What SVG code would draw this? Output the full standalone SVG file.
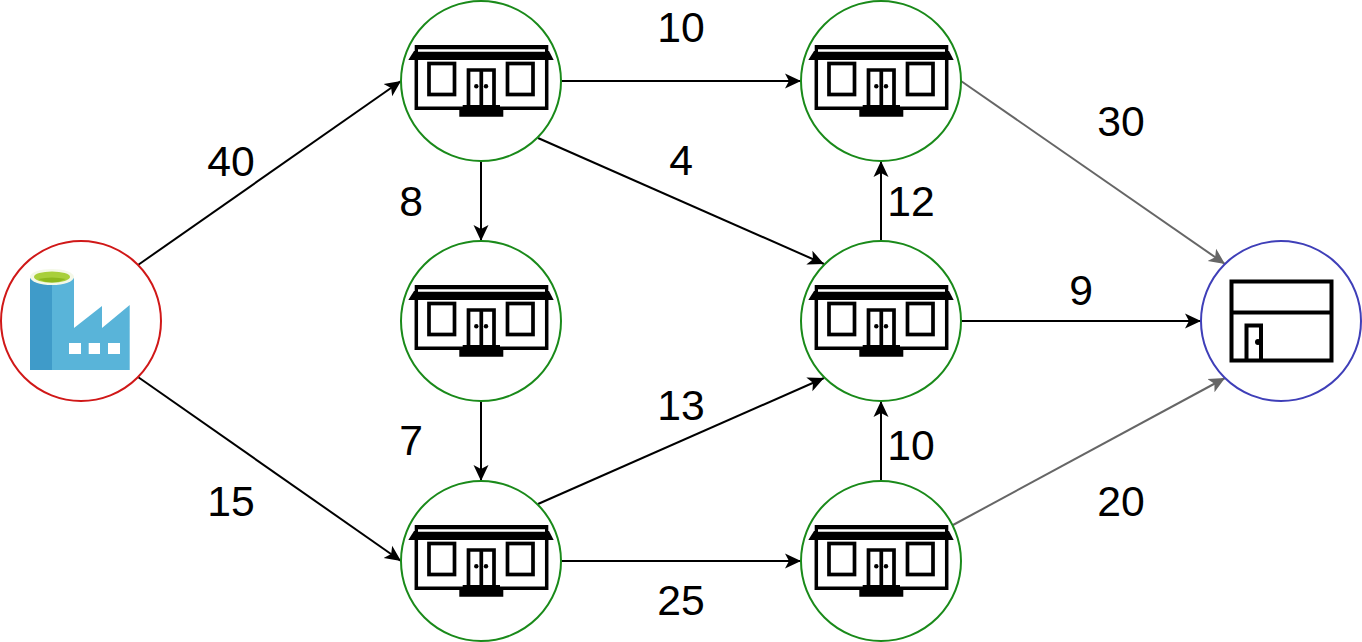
<svg xmlns="http://www.w3.org/2000/svg" width="1362" height="642" viewBox="0 0 1362 642">
<style>
text{font-family:"Liberation Sans",Arial,sans-serif;font-size:42.7px;fill:#000;text-anchor:middle}
.n{fill:#fff;stroke-width:2}
.g{stroke:#1a8a1a}
.c{fill:none;stroke:#000;stroke-width:2;marker-end:url(#a)}
.y{fill:none;stroke:#666;stroke-width:2;marker-end:url(#b)}
.k{fill:none;stroke:#000}
</style>
<defs>
<marker id="a" markerUnits="userSpaceOnUse" markerWidth="20" markerHeight="20" refX="16" refY="10" orient="auto"><path d="M0 2.500 L16 10 L0 17.500 L4 10Z" fill="#000"/></marker>
<marker id="b" markerUnits="userSpaceOnUse" markerWidth="20" markerHeight="20" refX="16" refY="10" orient="auto"><path d="M0 2.500 L16 10 L0 17.500 L4 10Z" fill="#666"/></marker>
<g id="house">
<circle class="n g" r="80"/>
<path class="k" d="M-64.700-25V27.300H65.700V-25" stroke-width="3.500"/>
<path d="M-66.300-36H67.300V-29H-66.300Z" fill="#000"/>
<path d="M-72.700-21L-67-30H68L72.700-21Z" fill="#000"/>
<path d="M-63-30.500H64" stroke="#fff" stroke-width="2.500"/>
<rect class="k" x="-52" y="-17.500" width="25.500" height="31" stroke-width="3.700"/>
<rect class="k" x="26.500" y="-17.500" width="25.500" height="31" stroke-width="3.700"/>
<path class="k" d="M-12.500 26V-11H13V26M.3-11V26" stroke-width="3.700"/>
<circle cx="-4.700" cy="5.300" r="2.200"/><circle cx="5" cy="5.300" r="2.200"/>
<path d="M-18.300 24H19V28H22.300V35.700H-21.700V28H-18.300Z" fill="#000"/>
</g>
</defs>
<g id="connectors">
<path class="c" d="M138 265L401 81"/>
<path class="c" d="M138 377L401 561"/>
<path class="c" d="M561 81H801"/>
<path class="c" d="M481 161V241"/>
<path class="c" d="M481 401V481"/>
<path class="c" d="M538 138L824 264"/>
<path class="c" d="M538 504L824 378"/>
<path class="c" d="M561 561H801"/>
<path class="c" d="M881 241V161"/>
<path class="c" d="M881 481V401"/>
<path class="c" d="M961 321H1201"/>
<path class="y" d="M961 81L1225 264"/>
<path class="y" d="M953 525L1225 378"/>
</g>
<g id="source">
<circle class="n" cx="81" cy="321" r="80" stroke="#d01818"/>
<path d="M52 278H74V328L102 306V328L129.700 305V370H52Z" fill="#59b4d9"/>
<path d="M30 278H52V370H30Z" fill="#3f9bc9"/>
<ellipse cx="52" cy="277" rx="22" ry="8" fill="#f4f8e8"/>
<ellipse cx="52" cy="277" rx="18" ry="5.500" fill="#a8cf3a"/>
<path d="M38 279Q52 286 66 279Q52 276 38 279Z" fill="#8cb81e"/>
<path d="M69 343h12v11h-12zM88.700 343h11.300v11h-11.300zM108 343h12v11h-12z" fill="#fff"/>
</g>
<g id="n1"><use href="#house" x="481" y="81"/></g>
<g id="n2"><use href="#house" x="881" y="81"/></g>
<g id="n3"><use href="#house" x="481" y="321"/></g>
<g id="n4"><use href="#house" x="881" y="321"/></g>
<g id="n5"><use href="#house" x="481" y="561"/></g>
<g id="n6"><use href="#house" x="881" y="561"/></g>
<g id="sink">
<circle class="n" cx="1281" cy="321" r="80" stroke="#3f3fb8"/>
<rect class="k" x="1231.500" y="281.500" width="100" height="79" stroke-width="4"/>
<path class="k" d="M1231.500 312.500H1331.500" stroke-width="4"/>
<path class="k" d="M1246.500 360V325.500H1261V360" stroke-width="4"/>
<circle cx="1258" cy="342" r="3"/>
</g>
<g id="labels">
<text x="231" y="176">40</text>
<text x="231" y="516">15</text>
<text x="681" y="42">10</text>
<text x="681" y="175">4</text>
<text x="411" y="216">8</text>
<text x="411" y="455">7</text>
<text x="681" y="420">13</text>
<text x="681" y="615">25</text>
<text x="911" y="216">12</text>
<text x="911" y="460">10</text>
<text x="1081" y="305">9</text>
<text x="1121" y="136">30</text>
<text x="1121" y="516">20</text>
</g>
</svg>
